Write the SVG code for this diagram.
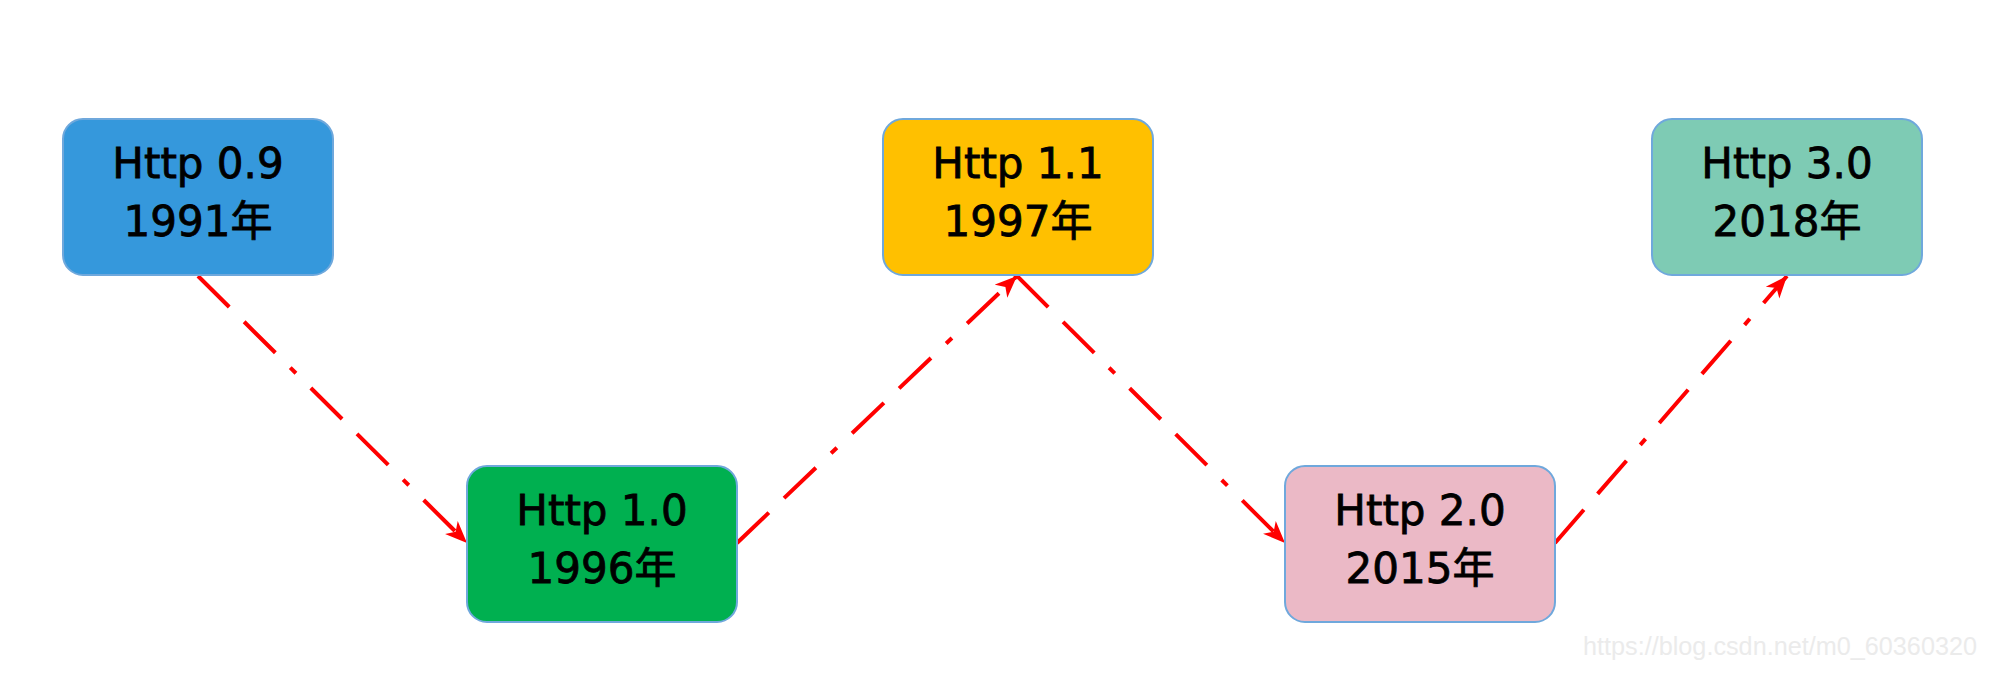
<svg xmlns="http://www.w3.org/2000/svg" width="2000" height="675" viewBox="0 0 2000 675">
<style>
.box{stroke:#6FA8DC;stroke-width:2}
.lbl{font-family:"DejaVu Sans","Noto Sans CJK SC",sans-serif;font-size:42px;fill:#000;stroke:#000;stroke-width:0.8;text-anchor:middle}
.conn{fill:none;stroke:#FF0000;stroke-width:4;stroke-dasharray:44 21 44 21 8 21;marker-end:url(#arr)}
.wm{font-family:"Liberation Sans",sans-serif;font-size:26px;fill:#EBEBEB}
</style>
<defs>
<marker id="arr" markerUnits="userSpaceOnUse" markerWidth="24" markerHeight="20" viewBox="0 0 24 20" refX="22" refY="10" orient="auto">
<path d="M0,1 L22,10 L0,19 L6,10 z" fill="#FF0000"/>
</marker>
</defs>
<rect width="2000" height="675" fill="#FFFFFF"/>
<g id="connectors">
<line class="conn" x1="198" y1="276" x2="467" y2="543"/>
<line class="conn" x1="737" y1="543" x2="1017" y2="276"/>
<line class="conn" x1="1017" y1="276" x2="1285" y2="543"/>
<line class="conn" x1="1555" y1="543" x2="1787" y2="276"/>
</g>
<g id="http09">
<rect class="box" x="63" y="119" width="270" height="156" rx="20" fill="#3598DC" stroke="#3598DC"/>
<text class="lbl" x="198" y="178">Http 0.9</text>
<text class="lbl" x="198" y="236">1991年</text>
</g>
<g id="http10">
<rect class="box" x="467" y="466" width="270" height="156" rx="20" fill="#00B050"/>
<text class="lbl" x="602" y="525">Http 1.0</text>
<text class="lbl" x="602" y="583">1996年</text>
</g>
<g id="http11">
<rect class="box" x="883" y="119" width="270" height="156" rx="20" fill="#FFC000"/>
<text class="lbl" x="1018" y="178">Http 1.1</text>
<text class="lbl" x="1018" y="236">1997年</text>
</g>
<g id="http20">
<rect class="box" x="1285" y="466" width="270" height="156" rx="20" fill="#EBB9C6"/>
<text class="lbl" x="1420" y="525">Http 2.0</text>
<text class="lbl" x="1420" y="583">2015年</text>
</g>
<g id="http30">
<rect class="box" x="1652" y="119" width="270" height="156" rx="20" fill="#7ECBB4"/>
<text class="lbl" x="1787" y="178">Http 3.0</text>
<text class="lbl" x="1787" y="236">2018年</text>
</g>
<text class="wm" x="1583" y="655" textLength="394" lengthAdjust="spacingAndGlyphs">https://blog.csdn.net/m0_60360320</text>
</svg>
